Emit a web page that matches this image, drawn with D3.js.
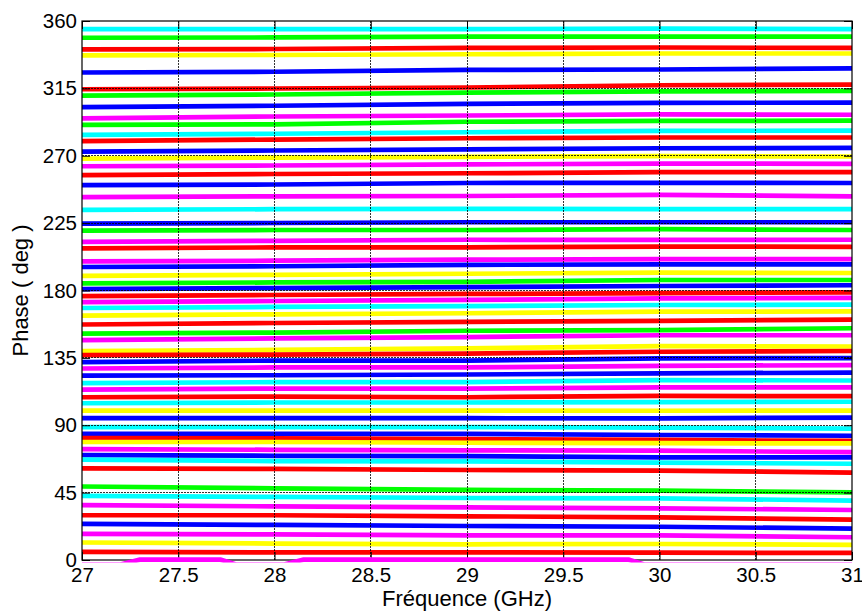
<!DOCTYPE html>
<html>
<head>
<meta charset="utf-8">
<script src="https://cdn.jsdelivr.net/npm/d3@7"></script>
<style>
  html, body { margin: 0; padding: 0; background: #fff; }
  text { font-family: Arial, "Liberation Sans", sans-serif; fill: #000; }
</style>
</head>
<body>
<svg id="chart" width="862" height="615"></svg>
<script>
// ---- data ----
const freqs = [27, 28, 29, 30, 31];
const xTicks = [27, 27.5, 28, 28.5, 29, 29.5, 30, 30.5, 31];
const yTicks = [0, 45, 90, 135, 180, 225, 270, 315, 360];
const lineColors = [
  "c","g","r","y","b","r","g","b","m","g","c","r","b","y","m","r","b","m","c","b",
  "g","m","r","m","b","y","g","b","r","m","c","y","r","g","m","y","r","b","m","b",
  "c","m","r","c","y","b","c","b","r","y","m","b","c","r","g","c","m","r","b","m",
  "y","r"
];
const phases = [
  [354.6, 354.6, 354.6, 354.9, 354.6],
  [348.8, 349.0, 349.5, 349.6, 349.5],
  [341.1, 341.3, 342.0, 342.3, 342.0],
  [337.1, 337.3, 337.8, 338.3, 338.3],
  [325.6, 326.1, 327.3, 327.6, 328.4],
  [314.4, 314.9, 315.6, 317.1, 317.5],
  [310.2, 310.9, 312.1, 313.0, 313.3],
  [302.5, 303.4, 304.6, 305.3, 305.5],
  [295.0, 296.2, 296.9, 297.6, 297.4],
  [290.6, 291.0, 292.7, 293.3, 293.4],
  [284.0, 284.7, 285.7, 286.6, 286.8],
  [279.8, 280.8, 281.7, 282.2, 282.2],
  [272.8, 273.5, 274.2, 275.0, 275.2],
  [268.1, 268.8, 269.3, 269.8, 269.5],
  [263.0, 263.5, 264.2, 264.8, 264.6],
  [257.1, 257.8, 258.3, 259.0, 259.0],
  [250.4, 250.8, 251.8, 251.9, 251.8],
  [242.4, 242.9, 243.1, 243.9, 242.9],
  [233.8, 234.3, 234.5, 234.3, 234.3],
  [224.7, 225.1, 225.6, 225.6, 225.6],
  [220.0, 220.4, 220.4, 221.0, 220.4],
  [212.5, 213.2, 213.9, 213.8, 213.9],
  [208.1, 208.8, 208.8, 209.3, 209.2],
  [199.4, 199.9, 200.6, 200.9, 201.0],
  [195.7, 196.2, 197.1, 197.5, 197.5],
  [189.8, 190.5, 191.2, 191.9, 191.7],
  [184.7, 185.4, 185.8, 187.0, 187.0],
  [180.9, 181.6, 182.3, 183.0, 183.5],
  [176.3, 177.0, 177.7, 178.2, 178.8],
  [172.3, 173.0, 173.7, 174.8, 175.1],
  [168.3, 169.0, 169.5, 170.3, 170.6],
  [163.2, 164.1, 164.8, 165.9, 166.0],
  [157.3, 158.3, 159.0, 159.7, 160.6],
  [151.2, 151.9, 153.1, 153.6, 154.8],
  [146.8, 148.0, 148.9, 150.1, 150.1],
  [139.6, 140.3, 141.4, 142.9, 142.6],
  [136.8, 137.2, 137.9, 139.1, 139.6],
  [132.1, 133.2, 133.2, 134.7, 134.9],
  [127.9, 128.6, 128.6, 129.6, 130.2],
  [123.2, 123.4, 123.9, 124.7, 125.1],
  [118.1, 118.8, 118.8, 120.2, 119.9],
  [113.8, 114.5, 114.5, 115.3, 115.3],
  [108.7, 109.1, 108.7, 109.6, 109.4],
  [104.7, 105.2, 105.2, 105.5, 105.7],
  [99.8, 99.8, 99.8, 99.7, 99.8],
  [94.7, 94.7, 94.7, 94.6, 95.1],
  [88.8, 88.8, 88.8, 88.4, 87.7],
  [84.2, 84.2, 84.2, 83.5, 83.0],
  [81.4, 81.2, 80.7, 80.2, 79.5],
  [78.8, 78.8, 78.3, 78.0, 77.9],
  [74.1, 73.6, 73.2, 73.0, 72.0],
  [70.1, 69.6, 69.4, 68.6, 68.5],
  [67.1, 66.1, 65.9, 65.0, 64.3],
  [61.2, 60.8, 60.1, 59.7, 58.4],
  [49.1, 47.9, 46.8, 46.3, 45.1],
  [42.8, 42.1, 41.4, 41.2, 39.7],
  [36.7, 35.8, 35.1, 34.5, 33.4],
  [29.9, 29.9, 29.2, 28.5, 26.9],
  [24.1, 23.4, 22.7, 22.2, 21.0],
  [17.5, 17.1, 16.4, 16.5, 15.2],
  [11.7, 11.0, 10.5, 10.7, 10.1],
  [5.4, 5.1, 5.1, 4.9, 4.7]
];
// state wrapping around 0 deg (partly below the axis)
const wrapFreqs = [27, 27.2, 27.3, 27.72, 27.8, 28.05, 28.15, 29.84, 29.92, 31];
const wrapPhases = [-3, -3, 0.2, 0.2, -3, -3, 0.2, 0.2, -3, -3];
const wrapColor = "m";

const colorMap = { r: "#ff0000", y: "#ffff00", m: "#ff00ff", c: "#00ffff", b: "#0000ff", g: "#00ff00" };

// ---- layout ----
const svg = d3.select("#chart");
const L = 82, R = 852, T = 21, B = 560;
const x = d3.scaleLinear().domain([27, 31]).range([L, R]);
const y = d3.scaleLinear().domain([0, 360]).range([B, T]);

svg.append("rect").attr("x", 0).attr("y", 0).attr("width", 862).attr("height", 615).attr("fill", "#fff");

svg.append("clipPath").attr("id", "clip")
  .append("rect").attr("x", L).attr("y", T).attr("width", R - L).attr("height", B - T);
svg.append("clipPath").attr("id", "clipWrap")
  .append("rect").attr("x", L).attr("y", T).attr("width", R - L).attr("height", B - T + 2.5);

const line = d3.line().x(d => x(d[0])).y(d => y(d[1]));
const gLines = svg.append("g").attr("clip-path", "url(#clip)");

phases.forEach((vals, i) => {
  gLines.append("path")
    .datum(freqs.map((f, k) => [f, vals[k]]))
    .attr("d", line)
    .attr("fill", "none")
    .attr("stroke", colorMap[lineColors[i]])
    .attr("stroke-width", 4.7);
});

// ---- grid (on top) ----
const grid = svg.append("g");
xTicks.slice(1, -1).forEach(t => {
  grid.append("line").attr("x1", x(t)).attr("x2", x(t)).attr("y1", T).attr("y2", B)
    .attr("stroke", "#000").attr("stroke-opacity", 0.8).attr("stroke-width", 1)
    .attr("stroke-dasharray", "1.5,1.5").attr("shape-rendering", "crispEdges");
});
yTicks.slice(1, -1).forEach(t => {
  grid.append("line").attr("x1", L).attr("x2", R).attr("y1", y(t)).attr("y2", y(t))
    .attr("stroke", "#000").attr("stroke-opacity", 0.8).attr("stroke-width", 1)
    .attr("stroke-dasharray", "1.5,1.5").attr("shape-rendering", "crispEdges");
});

// ---- axes ----
const tickLen = 8;
const xAxisB = d3.axisBottom(x).tickValues(xTicks).tickSizeInner(-tickLen).tickSizeOuter(0).tickPadding(7)
  .tickFormat(d => String(d));
const gx = svg.append("g").attr("transform", `translate(0,${B})`).call(xAxisB);
gx.selectAll("text").style("font-size", "20.5px").attr("font-family", "Arial, 'Liberation Sans', sans-serif");

const yAxisL = d3.axisLeft(y).tickValues(yTicks).tickSizeInner(-tickLen).tickSizeOuter(0).tickPadding(5);
const gy = svg.append("g").attr("transform", `translate(${L},0)`).call(yAxisL);
gy.selectAll("text").style("font-size", "20.5px").attr("font-family", "Arial, 'Liberation Sans', sans-serif");

const xAxisT = d3.axisTop(x).tickValues(xTicks).tickSizeInner(-tickLen).tickSizeOuter(0).tickFormat("");
svg.append("g").attr("transform", `translate(0,${T})`).call(xAxisT);
const yAxisR = d3.axisRight(y).tickValues(yTicks).tickSizeInner(-tickLen).tickSizeOuter(0).tickFormat("");
svg.append("g").attr("transform", `translate(${R},0)`).call(yAxisR);

svg.selectAll(".domain").remove();
svg.selectAll(".tick line").attr("stroke", "#000").attr("stroke-width", 1);

svg.append("rect").attr("x", L).attr("y", T).attr("width", R - L).attr("height", B - T)
  .attr("fill", "none").attr("stroke", "#000").attr("stroke-width", 1.2);

// wrap-around state drawn over the bottom axis line
svg.append("g").attr("clip-path", "url(#clipWrap)").append("path")
  .datum(wrapFreqs.map((f, k) => [f, wrapPhases[k]]))
  .attr("d", line)
  .attr("fill", "none")
  .attr("stroke", colorMap[wrapColor])
  .attr("stroke-width", 4.7);

// ---- titles ----
svg.append("text").attr("x", (L + R) / 2).attr("y", 606).attr("text-anchor", "middle")
  .style("font-size", "22px").text("Fréquence (GHz)");
svg.append("text").attr("transform", `translate(28,${(T + B) / 2}) rotate(-90)`).attr("text-anchor", "middle")
  .style("font-size", "22px").text("Phase ( deg )");
</script>
</body>
</html>
